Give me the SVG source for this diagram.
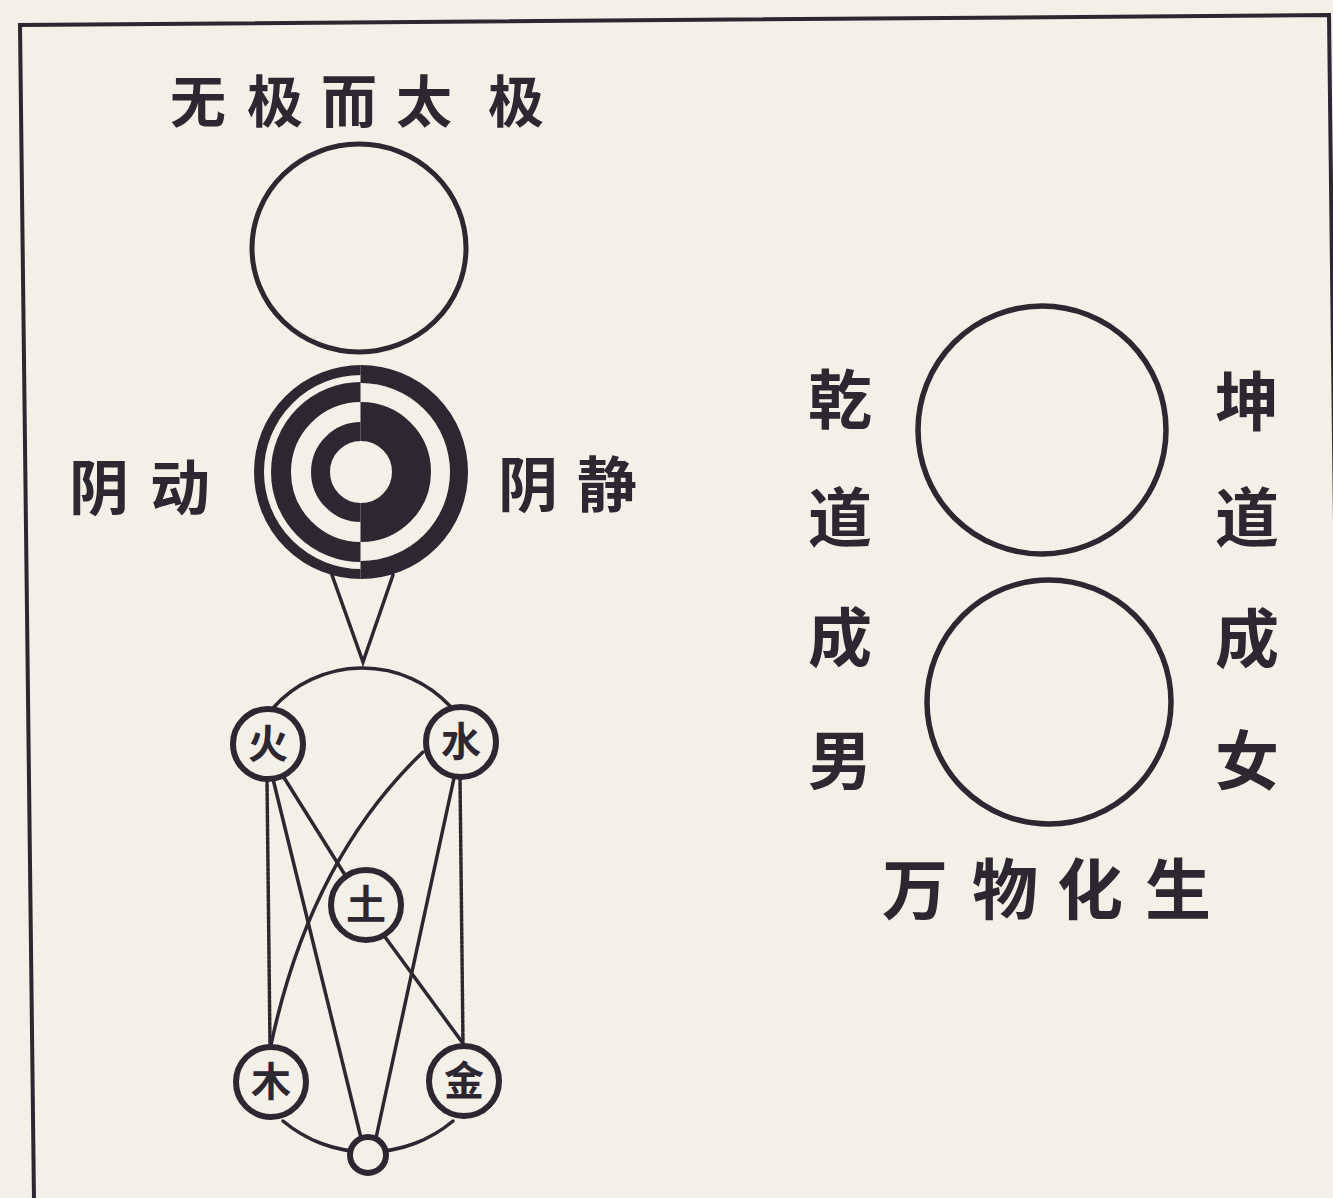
<svg xmlns="http://www.w3.org/2000/svg" width="1333" height="1198" viewBox="0 0 1333 1198">
<defs>
<style>
.ink{fill:none;stroke:#2c2730;stroke-linecap:round}
.ring{fill:#f3f0e7;stroke:#2c2730;stroke-width:6}
.t{font-family:"Noto Sans CJK SC","Noto Sans CJK TC",sans-serif;font-weight:700;fill:#2c2730;text-anchor:middle}
.dot{fill:none;stroke:#2c2730;stroke-width:3.5;stroke-dasharray:3 1.4}
</style>
<clipPath id="lh"><rect x="240" y="350" width="120.5" height="250"/></clipPath>
<clipPath id="rh"><rect x="360.5" y="350" width="120" height="250"/></clipPath>
</defs>
<rect x="0" y="0" width="1333" height="1198" fill="#f3f0e7"/>
<g id="frame" class="ink" stroke-width="4">
<path d="M34,1200 L20,25 L1329,15 L1343,1200"/>
</g>
<g id="title"><text class="t" font-size="56" x="198 275 349 424 516" y="122">无极而太极</text></g>
<g id="wuji"><ellipse class="ink" cx="359" cy="248" rx="107" ry="104" stroke-width="5"/></g>
<g id="taiji">
<g clip-path="url(#lh)" class="ink">
<circle cx="361" cy="472" r="102" stroke-width="10"/>
<circle cx="361" cy="472" r="80" stroke-width="20"/>
<circle cx="361" cy="472" r="40.5" stroke-width="19"/>
</g>
<g clip-path="url(#rh)" class="ink">
<circle cx="361" cy="472" r="98" stroke-width="18"/>
<circle cx="361" cy="472" r="50.5" stroke-width="39"/>
</g>
</g>
<g id="label-yangdong"><text class="t" font-size="60" x="99 180" y="510">阴动</text></g>
<g id="label-yinjing"><text class="t" font-size="60" x="528 607" y="507">阴静</text></g>
<g id="connectors" class="ink" stroke-width="3.5">
<path d="M332,575 L363,662 L393,575"/>
<path d="M273,708 A120,120 0 0 1 450,706"/>
<path d="M283,1121 A132,132 0 0 0 453,1121"/>
<path class="dot" d="M267,780 L270,1045"/>
<path class="dot" d="M460,778 L463,1044"/>
<path d="M273,779 L361,1138"/>
<path d="M454,778 L376,1138"/>
<path d="M283,776 L345,875"/>
<path d="M385,937 L462,1042"/>
<path d="M423,752 Q310,860 271,1045"/>
</g>
<g id="huo"><circle class="ring" cx="268" cy="744" r="35"/><text class="t" font-size="40" x="268" y="758">火</text></g>
<g id="shui"><circle class="ring" cx="461" cy="742" r="35"/><text class="t" font-size="40" x="461" y="756">水</text></g>
<g id="tu"><circle class="ring" cx="366" cy="905" r="35"/><text class="t" font-size="40" x="366" y="919">土</text></g>
<g id="mu"><circle class="ring" cx="271" cy="1082" r="35"/><text class="t" font-size="40" x="271" y="1096">木</text></g>
<g id="jin"><circle class="ring" cx="464" cy="1081" r="35"/><text class="t" font-size="40" x="464" y="1095">金</text></g>
<g id="bottom"><circle class="ring" cx="368" cy="1155" r="18" stroke-width="3.5"/></g>
<g id="qian-circle"><circle class="ink" cx="1042" cy="430" r="124" stroke-width="5.5"/></g>
<g id="kun-circle"><circle class="ink" cx="1049" cy="702" r="122" stroke-width="5.5"/></g>
<g id="label-qian"><text class="t" font-size="64" x="840 840 840 840" y="423 541 661 784">乾道成男</text></g>
<g id="label-kun"><text class="t" font-size="64" x="1247 1247 1247 1247" y="425 541 662 784">坤道成女</text></g>
<g id="label-wanwu"><text class="t" font-size="66" x="915 1005 1090 1178" y="914">万物化生</text></g>
</svg>
